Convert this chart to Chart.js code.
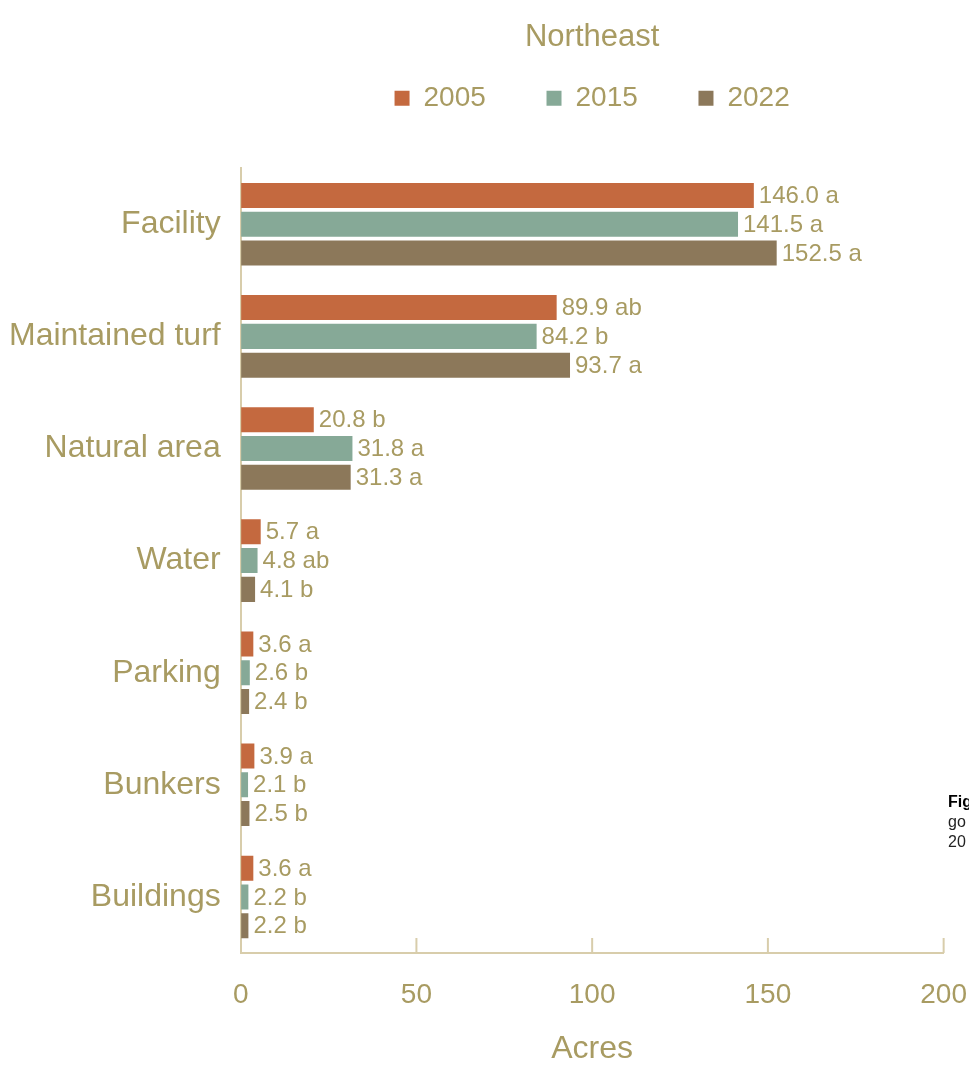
<!DOCTYPE html>
<html lang="en">
<head>
  <meta charset="UTF-8" />
  <title>Northeast – acres by land use</title>
  <script src="https://cdn.jsdelivr.net/npm/chart.js"></script>
  <style>
    body {
      margin: 0;
      background-color: #fff;
      overflow: hidden;
    }
    #wrap {
      position: relative;
      width: 969px;
      height: 1068px;
    }
    canvas {
      position: absolute;
      left: 0;
      top: 0;
    }
    .caption {
      position: absolute;
      left: 948px;
      top: 792px;
      font-family: 'Liberation Sans', Arial, sans-serif;
      font-size: 16px;
      line-height: 20px;
      color: #222;
      white-space: nowrap;
    }
    .caption b { color: #000; }
  </style>
</head>
<body>
  <div id="wrap">
    <canvas id="landChart" width="969" height="1068"></canvas>
    <div class="caption"><b>Fig</b><br>go<br>20</div>
  </div>

  <script>
    const categories = ['Facility', 'Maintained turf', 'Natural area', 'Water', 'Parking', 'Bunkers', 'Buildings'];
    const years = ['2005', '2015', '2022'];
    const acres2005 = [146.0, 89.9, 20.8, 5.7, 3.6, 3.9, 3.6];
    const acres2015 = [141.5, 84.2, 31.8, 4.8, 2.6, 2.1, 2.2];
    const acres2022 = [152.5, 93.7, 31.3, 4.1, 2.4, 2.5, 2.2];
    const letters2005 = ['a', 'ab', 'b', 'a', 'a', 'a', 'a'];
    const letters2015 = ['a', 'b', 'a', 'ab', 'b', 'b', 'b'];
    const letters2022 = ['a', 'a', 'a', 'b', 'b', 'b', 'b'];
    const xTicks = [0, 50, 100, 150, 200];

    const textColor = '#a89b62';
    const axisColor = '#d8cdab';
    const family = "'Liberation Sans', Arial, sans-serif";

    // small upward tick marks on the x axis
    const tickMarks = {
      id: 'tickMarks',
      afterDraw(chart) {
        const xs = chart.scales.x;
        const ctx = chart.ctx;
        const y0 = chart.chartArea.bottom;
        ctx.save();
        ctx.strokeStyle = axisColor;
        ctx.lineWidth = 2;
        xTicks.slice(1).forEach(v => {
          const px = xs.getPixelForValue(v);
          ctx.beginPath();
          ctx.moveTo(px, y0);
          ctx.lineTo(px, y0 - 15);
          ctx.stroke();
        });
        ctx.restore();
      }
    };

    // value + letter next to each bar
    const valueLabels = {
      id: 'valueLabels',
      afterDatasetsDraw(chart) {
        const ctx = chart.ctx;
        ctx.save();
        ctx.font = '24px ' + family;
        ctx.fillStyle = textColor;
        ctx.textAlign = 'left';
        ctx.textBaseline = 'middle';
        chart.data.datasets.forEach((ds, i) => {
          chart.getDatasetMeta(i).data.forEach((bar, j) => {
            ctx.fillText(ds.data[j].toFixed(1) + ' ' + ds.letters[j], bar.x + 5, bar.y + 1);
          });
        });
        ctx.restore();
      }
    };

    new Chart(document.getElementById('landChart'), {
      type: 'bar',
      data: {
        labels: categories,
        datasets: [
          { label: years[0], data: acres2005, letters: letters2005, backgroundColor: '#c4693f' },
          { label: years[1], data: acres2015, letters: letters2015, backgroundColor: '#86a997' },
          { label: years[2], data: acres2022, letters: letters2022, backgroundColor: '#8c785a' }
        ]
      },
      options: {
        indexAxis: 'y',
        responsive: false,
        animation: false,
        layout: { padding: { left: -11, right: 0, top: 0, bottom: 0 } },
        datasets: { bar: { categoryPercentage: 0.77, barPercentage: 0.87 } },
        plugins: {
          title: {
            display: true,
            text: 'Northeast',
            color: textColor,
            fullSize: false,
            font: { family: family, size: 31, weight: 'normal' },
            padding: { top: 19, bottom: 14 }
          },
          legend: {
            position: 'top',
            fullSize: false,
            weight: 1700,
            labels: {
              color: textColor,
              font: { family: family, size: 28 },
              boxWidth: 15,
              boxHeight: 15,
              padding: 14,
              generateLabels(chart) {
                const items = Chart.defaults.plugins.legend.labels.generateLabels(chart);
                items.forEach((it, i) => {
                  if (i < items.length - 1) it.text += '      ';
                  it.lineWidth = 0;
                });
                return items;
              }
            }
          },
          // empty spacer between legend and plot
          subtitle: {
            display: true,
            text: '',
            fullSize: false,
            font: { size: 10, lineHeight: 1 },
            padding: { top: 36, bottom: 0 }
          },
          tooltip: { enabled: false }
        },
        scales: {
          x: {
            min: 0,
            max: 200,
            ticks: { stepSize: 50, color: textColor, font: { family: family, size: 28 }, padding: 2 },
            grid: { display: true, drawOnChartArea: false, drawTicks: true, tickLength: 23, color: 'rgba(0,0,0,0)' },
            border: { display: true, color: axisColor, width: 2 },
            title: {
              display: true,
              text: 'Acres',
              color: textColor,
              font: { family: family, size: 32 },
              padding: { top: 16, bottom: 0 }
            }
          },
          y: {
            ticks: { color: textColor, font: { family: family, size: 32 }, padding: 20 },
            grid: { display: false, drawTicks: false },
            border: { display: true, color: axisColor, width: 2 }
          }
        }
      },
      plugins: [tickMarks, valueLabels]
    });
  </script>
</body>
</html>
